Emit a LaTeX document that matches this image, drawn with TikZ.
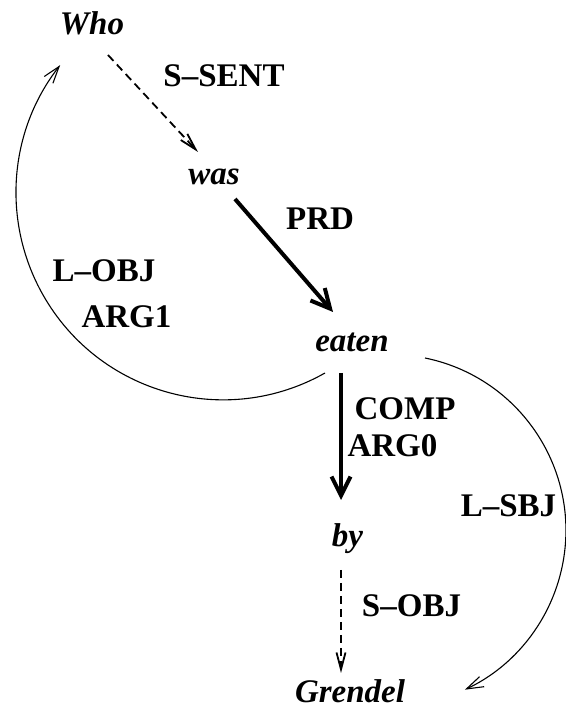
\documentclass[tikz,border=0pt]{standalone}
\usepackage{fontspec}
\setmainfont{Liberation Serif}
\usetikzlibrary{arrows.meta}

\begin{document}
\begin{tikzpicture}[x=1pt, y=1pt,
    word/.style={anchor=base, inner sep=0pt, font=\fontsize{33}{38}\selectfont\bfseries\itshape},
    rel/.style={anchor=base, inner sep=0pt, font=\fontsize{33}{38}\selectfont\bfseries},
    surf/.style={line width=1.8pt, dash pattern=on 8pt off 5pt, -{Straight Barb[length=17pt,width=9pt]}},
    deep/.style={line width=4pt, -{Straight Barb[length=19pt,width=19pt]}},
    long/.style={line width=1.1pt, -{Straight Barb[length=17pt,width=11pt]}}]
  \useasboundingbox (0, 0) rectangle (565, 709);

  % words
  \node[word] (who) at (92, 674) {Who};
  \node[word] (was) at (214, 524) {was};
  \node[word] (eaten) at (352, 357) {eaten};
  \node[word] (by) at (347.5, 162) {by};
  \node[word] (grendel) at (350, 6) {Grendel};

  % relation labels
  \node[rel] (ssent) at (224, 622) {S--SENT};
  \node[rel] (prd) at (320, 479) {PRD};
  \node[rel] (lobj) at (104, 427) {L--OBJ};
  \node[rel] (arg1) at (126.5, 381) {ARG1};
  \node[rel] (comp) at (405, 289) {COMP};
  \node[rel] (arg0) at (392.5, 252) {ARG0};
  \node[rel] (lsbj) at (508.5, 192) {L--SBJ};
  \node[rel] (sobj) at (411.5, 92) {S--OBJ};

  % dependencies
  \draw[surf] ([shift={(16,-20)}]who.base) -- ([shift={(-16,33)}]was.base);
  \draw[deep] ([shift={(21,-14)}]was.base) -- ([shift={(-19,40)}]eaten.base);
  \draw[deep] ([shift={(-11,-21)}]eaten.base) -- ([shift={(-6.5,47)}]by.base);
  \draw[surf] ([shift={(-6.5,-23)}]by.base) -- ([shift={(-9,30)}]grendel.base);
  \draw[long] ([shift={(-27,-21)}]eaten.base) arc[start angle=-60.5, end angle=-218.1, radius=207];
  \draw[long] ([shift={(73,-6)}]eaten.base) arc[start angle=78.5, end angle=-64.8, radius=176];
\end{tikzpicture}
\end{document}
